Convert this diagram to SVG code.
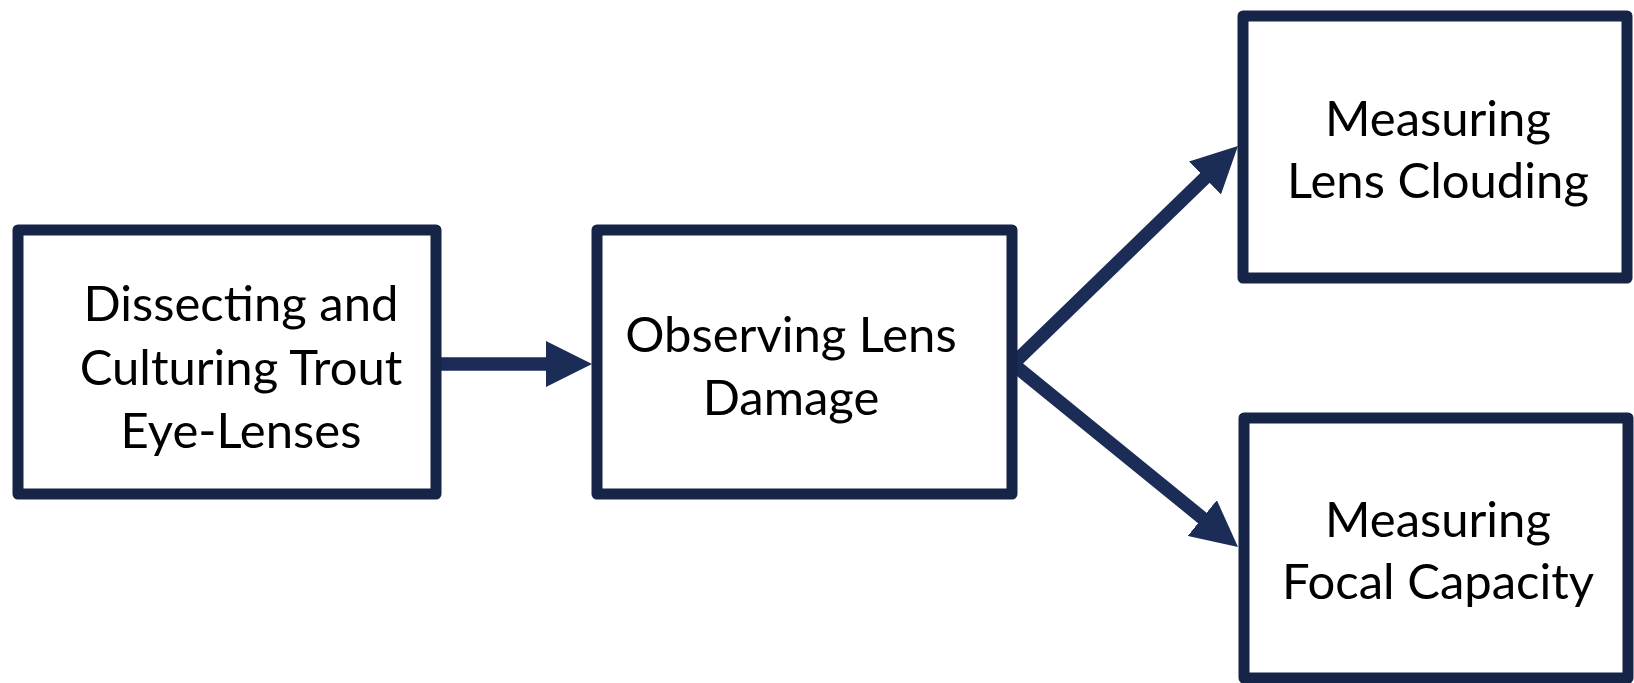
<svg xmlns="http://www.w3.org/2000/svg" width="1634" height="683" viewBox="0 0 1634 683">
<style>
.box{fill:#ffffff;stroke:#152447;stroke-width:11;stroke-linejoin:round}
.lbl{font-family:Lato,"Liberation Sans",sans-serif;font-size:49px;fill:#000000;text-anchor:middle}
.conn{stroke:#1b2d57;stroke-width:13.5;stroke-linecap:round;fill:none}
</style>
<defs>
<marker id="ah" viewBox="0 0 46 46" refX="26" refY="23" markerWidth="46" markerHeight="46" markerUnits="userSpaceOnUse" orient="auto">
<path d="M0,0 L46,23 L0,46 z" fill="#1b2d57"/>
</marker>
</defs>
<rect width="1634" height="683" fill="#ffffff"/>
<g id="connectors">
<line class="conn" x1="437" y1="364" x2="572" y2="364" marker-end="url(#ah)"/>
<line class="conn" x1="1013" y1="364" x2="1223.6" y2="159.9" marker-end="url(#ah)"/>
<line class="conn" x1="1013" y1="364" x2="1222.5" y2="534.4" marker-end="url(#ah)"/>
</g>
<g id="node-dissecting">
<rect class="box" x="18" y="230" width="418" height="264"/>
<text class="lbl" x="241" y="321">Dissecting and</text>
<text class="lbl" x="241" y="385">Culturing Trout</text>
<text class="lbl" x="241" y="448">Eye-Lenses</text>
</g>
<g id="node-observing">
<rect class="box" x="597" y="230" width="415" height="264"/>
<text class="lbl" x="791" y="352">Observing Lens</text>
<text class="lbl" x="791" y="415">Damage</text>
</g>
<g id="node-clouding">
<rect class="box" x="1243" y="16" width="384" height="262"/>
<text class="lbl" x="1438" y="136">Measuring</text>
<text class="lbl" x="1438" y="198">Lens Clouding</text>
</g>
<g id="node-focal">
<rect class="box" x="1244" y="418" width="384" height="260"/>
<text class="lbl" x="1438" y="537">Measuring</text>
<text class="lbl" x="1438" y="599">Focal Capacity</text>
</g>
</svg>
